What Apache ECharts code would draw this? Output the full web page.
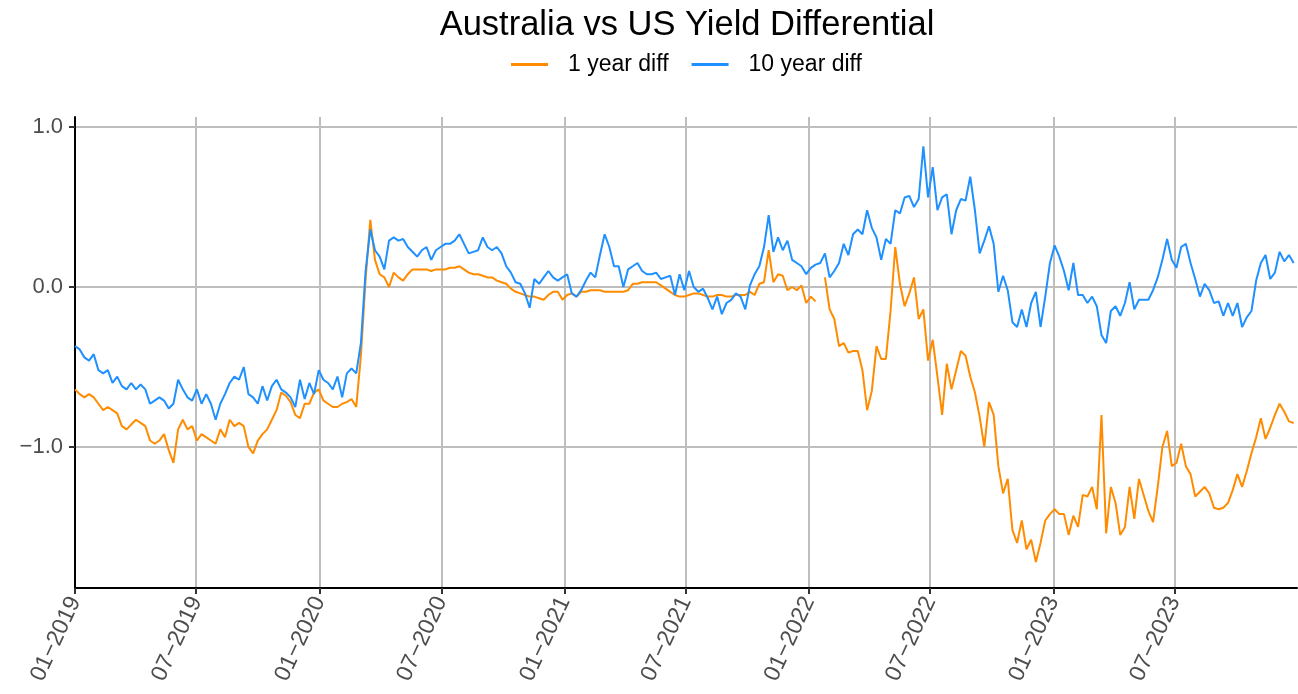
<!DOCTYPE html>
<html>
<head>
<meta charset="utf-8">
<title>Australia vs US Yield Differential</title>
<script src="https://cdn.jsdelivr.net/npm/echarts@6/dist/echarts.min.js"></script>
<style>
html, body { margin: 0; padding: 0; background: #fff; }
#g_yield { width: 1298px; height: 694px; }
</style>
</head>
<body>
<div id="g_yield"></div>
<script>
// weekly observations, first one on 2019-01-01
var startYear = 2019, startMonth = 0, startDay = 1;
var stepDays = 7;
var seriesNames = ['1 year diff', '10 year diff'];
var yTicks = [-1, 0, 1];

// AU minus US, 1 year
var diff1y = [
  -0.64, -0.67, -0.69, -0.67, -0.69, -0.73, -0.77, -0.75, -0.77, -0.79,
  -0.87, -0.89, -0.86, -0.83, -0.85, -0.87, -0.96, -0.98, -0.96, -0.92,
  -1.02, -1.10, -0.89, -0.83, -0.89, -0.87, -0.96, -0.92, -0.94, -0.96,
  -0.98, -0.89, -0.94, -0.83, -0.87, -0.85, -0.87, -1.00, -1.04, -0.96,
  -0.92, -0.89, -0.83, -0.77, -0.66, -0.68, -0.72, -0.80, -0.82, -0.73,
  -0.73, -0.66, -0.64, -0.71, -0.73, -0.75, -0.75, -0.73, -0.72, -0.70,
  -0.75, -0.43, 0.05, 0.42, 0.17, 0.08, 0.06, 0.00, 0.09, 0.06,
  0.04, 0.08, 0.11, 0.11, 0.11, 0.11, 0.10, 0.11, 0.11, 0.11,
  0.12, 0.12, 0.13, 0.11, 0.09, 0.08, 0.08, 0.07, 0.06, 0.06,
  0.04, 0.03, 0.02, -0.01, -0.03, -0.04, -0.05, -0.06, -0.06, -0.07,
  -0.08, -0.05, -0.03, -0.03, -0.08, -0.05, -0.04, -0.06, -0.03, -0.03,
  -0.02, -0.02, -0.02, -0.03, -0.03, -0.03, -0.03, -0.03, -0.02, 0.02,
  0.02, 0.03, 0.03, 0.03, 0.03, 0.01, -0.01, -0.03, -0.05, -0.06,
  -0.06, -0.05, -0.04, -0.04, -0.05, -0.06, -0.06, -0.05, -0.05, -0.06,
  -0.06, -0.05, -0.05, -0.05, -0.03, -0.05, 0.02, 0.03, 0.23, 0.03,
  0.08, 0.07, -0.02, 0.00, -0.02, 0.01, -0.10, -0.06, -0.09, null,
  0.06, -0.14, -0.20, -0.37, -0.35, -0.41, -0.40, -0.40, -0.52, -0.77,
  -0.65, -0.37, -0.45, -0.45, -0.15, 0.25, 0.02, -0.12, -0.04, 0.06,
  -0.20, -0.14, -0.46, -0.33, -0.56, -0.80, -0.48, -0.64, -0.52, -0.40,
  -0.43, -0.56, -0.66, -0.81, -1.00, -0.72, -0.80, -1.12, -1.29, -1.20,
  -1.52, -1.60, -1.46, -1.64, -1.58, -1.72, -1.60, -1.46, -1.42, -1.39,
  -1.42, -1.42, -1.55, -1.43, -1.50, -1.30, -1.31, -1.25, -1.39, -0.80,
  -1.54, -1.25, -1.35, -1.55, -1.50, -1.25, -1.45, -1.20, -1.30, -1.40,
  -1.47, -1.25, -1.00, -0.90, -1.12, -1.10, -0.98, -1.12, -1.17, -1.31,
  -1.28, -1.25, -1.29, -1.38, -1.39, -1.38, -1.35, -1.27, -1.17, -1.25,
  -1.15, -1.04, -0.94, -0.82, -0.95, -0.88, -0.80, -0.73, -0.78, -0.84,
  -0.85
];

// AU minus US, 10 year
var diff10y = [
  -0.37, -0.39, -0.44, -0.46, -0.42, -0.52, -0.54, -0.52, -0.60, -0.56,
  -0.62, -0.64, -0.60, -0.64, -0.61, -0.64, -0.73, -0.71, -0.69, -0.71,
  -0.76, -0.73, -0.58, -0.64, -0.69, -0.71, -0.64, -0.73, -0.67, -0.73,
  -0.83, -0.73, -0.67, -0.60, -0.56, -0.58, -0.50, -0.67, -0.69, -0.73,
  -0.62, -0.71, -0.62, -0.58, -0.64, -0.66, -0.69, -0.75, -0.58, -0.70,
  -0.60, -0.67, -0.52, -0.58, -0.60, -0.64, -0.56, -0.69, -0.54, -0.51,
  -0.54, -0.35, 0.10, 0.36, 0.23, 0.19, 0.11, 0.29, 0.31, 0.29,
  0.30, 0.25, 0.22, 0.19, 0.23, 0.25, 0.17, 0.23, 0.25, 0.27,
  0.27, 0.29, 0.33, 0.27, 0.21, 0.22, 0.23, 0.31, 0.25, 0.23,
  0.25, 0.21, 0.13, 0.09, 0.03, 0.02, -0.04, -0.13, 0.05, 0.02,
  0.06, 0.10, 0.06, 0.04, 0.06, 0.08, -0.04, -0.06, -0.02, 0.04,
  0.09, 0.06, 0.20, 0.33, 0.25, 0.13, 0.13, 0.00, 0.11, 0.13,
  0.15, 0.10, 0.08, 0.08, 0.09, 0.05, 0.06, 0.07, -0.05, 0.08,
  -0.02, 0.10, 0.00, -0.03, -0.01, -0.07, -0.14, -0.06, -0.17, -0.10,
  -0.08, -0.04, -0.06, -0.14, 0.01, 0.08, 0.13, 0.25, 0.45, 0.22,
  0.31, 0.23, 0.29, 0.17, 0.15, 0.13, 0.08, 0.12, 0.14, 0.15,
  0.21, 0.06, 0.10, 0.15, 0.27, 0.20, 0.33, 0.36, 0.33, 0.48,
  0.37, 0.31, 0.17, 0.30, 0.27, 0.48, 0.46, 0.56, 0.57, 0.50,
  0.55, 0.88, 0.56, 0.75, 0.48, 0.56, 0.58, 0.33, 0.48, 0.55,
  0.54, 0.69, 0.48, 0.21, 0.29, 0.38, 0.27, -0.03, 0.07, -0.02,
  -0.22, -0.25, -0.14, -0.25, -0.10, -0.03, -0.25, -0.06, 0.15, 0.26,
  0.19, 0.10, -0.02, 0.15, -0.05, -0.05, -0.10, -0.06, -0.12, -0.30,
  -0.35, -0.15, -0.12, -0.18, -0.10, 0.03, -0.14, -0.08, -0.08, -0.08,
  -0.02, 0.06, 0.17, 0.30, 0.17, 0.12, 0.25, 0.27, 0.15, 0.05,
  -0.06, 0.02, -0.02, -0.10, -0.09, -0.18, -0.10, -0.18, -0.10, -0.25,
  -0.19, -0.15, 0.04, 0.15, 0.20, 0.05, 0.09, 0.22, 0.16, 0.20,
  0.15
];

function pad2(n) {
  return n < 10 ? '0' + n : '' + n;
}

function toPairs(values) {
  var out = [];
  for (var i = 0; i < values.length; i++) {
    var d = new Date(startYear, startMonth, startDay + i * stepDays);
    out.push([d.getTime(), values[i]]);
  }
  return out;
}

function drawYield() {
  var dom = document.getElementById('g_yield');
  var myChart = echarts.init(dom, null, { renderer: 'canvas' });
  var font = "'Liberation Sans', Arial, sans-serif";
  var halfYear = 182.5 * 24 * 3600 * 1000;

  var option = {
    animation: false,
    backgroundColor: '#fff',
    title: {
      text: 'Australia vs US Yield Differential',
      left: 682,
      textAlign: 'center',
      top: 3,
      textStyle: { fontSize: 34.5, fontWeight: 'normal', color: '#000', fontFamily: font }
    },
    legend: {
      data: seriesNames,
      left: 511,
      top: 53,
      padding: 0,
      itemGap: 23,
      itemWidth: 37,
      itemHeight: 3,
      icon: 'rect',
      textStyle: { fontSize: 23, color: '#000', fontFamily: font, padding: [0, 0, 0, 15] }
    },
    grid: { left: 75, right: 1, top: 117, bottom: 106, containLabel: false, outerBoundsMode: 'none' },
    xAxis: {
      type: 'time',
      min: new Date(2019, 0, 1).getTime(),
      max: new Date(2023, 11, 31).getTime(),
      minInterval: halfYear,
      maxInterval: halfYear,
      axisLine: { onZero: false, lineStyle: { color: '#000', width: 2 } },
      axisTick: { show: true, length: 6, lineStyle: { color: '#333', width: 2 } },
      axisLabel: {
        rotate: 65,
        margin: 10,
        fontSize: 23,
        color: '#4D4D4D',
        fontFamily: font,
        hideOverlap: false,
        showMaxLabel: false,
        formatter: function (v) {
          var d = new Date(v);
          return pad2(d.getMonth() + 1) + '\u2212' + d.getFullYear();
        }
      },
      splitLine: { show: true, showMaxLine: false, lineStyle: { color: '#BEBEBE', width: 2 } }
    },
    yAxis: {
      type: 'value',
      min: -1.882,
      max: 1.063,
      axisLine: { show: true, lineStyle: { color: '#000', width: 2 } },
      axisTick: { show: true, length: 6, customValues: yTicks, lineStyle: { color: '#333', width: 2 } },
      axisLabel: {
        customValues: yTicks,
        margin: 12,
        fontSize: 22,
        color: '#4D4D4D',
        fontFamily: font,
        formatter: function (v) {
          return v < 0 ? '\u2212' + Math.abs(v).toFixed(1) : v.toFixed(1);
        }
      },
      splitLine: { show: true, lineStyle: { color: '#BEBEBE', width: 2 } }
    },
    series: [
      {
        name: seriesNames[0],
        type: 'line',
        data: toPairs(diff1y),
        showSymbol: false,
        connectNulls: false,
        color: '#FF8C00',
        lineStyle: { width: 2, color: '#FF8C00' }
      },
      {
        name: seriesNames[1],
        type: 'line',
        data: toPairs(diff10y),
        showSymbol: false,
        connectNulls: false,
        color: '#1E90FF',
        lineStyle: { width: 2, color: '#1E90FF' }
      }
    ]
  };

  myChart.setOption(option, true);
}

drawYield();
</script>
</body>
</html>
